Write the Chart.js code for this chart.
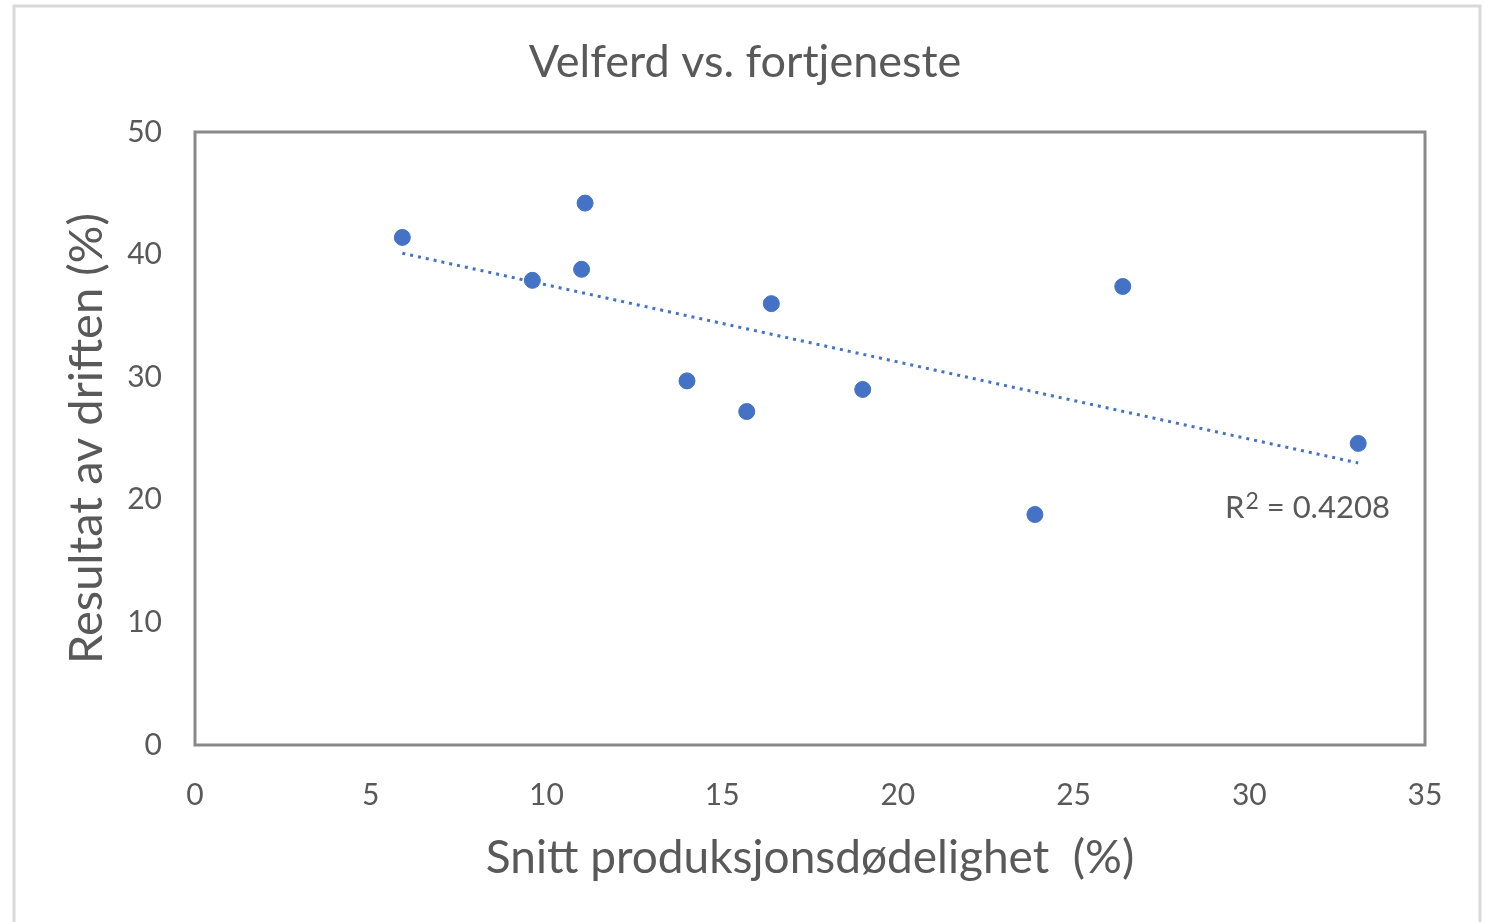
<!DOCTYPE html>
<html>
<head>
<meta charset="utf-8">
<script src="https://cdn.jsdelivr.net/npm/chart.js@4/dist/chart.umd.min.js"></script>
<style>
  html, body { margin: 0; padding: 0; background: #fff; }
  #wrap { width: 1486px; height: 922px; }
</style>
</head>
<body>
<div id="wrap"><canvas id="chart" width="1486" height="922"></canvas></div>
<script>
const mortality = [5.9, 11.1, 9.6, 11.0, 16.4, 14.0, 15.7, 19.0, 23.9, 26.4, 33.1];
const result = [41.4, 44.2, 37.9, 38.8, 36.0, 29.7, 27.2, 29.0, 18.8, 37.4, 24.6];
const xTicks = [0, 5, 10, 15, 20, 25, 30, 35];
const yTicks = [0, 10, 20, 30, 40, 50];
const rSquaredLabel = "0.4208";

const FONT = "Lato, 'Open Sans', sans-serif";
const TEXT = "#595959";
const BLUE = "#4472C4";

const points = mortality.map((x, i) => ({ x, y: result[i] }));

// least squares line for the trend
const n = points.length;
const mx = mortality.reduce((a, b) => a + b, 0) / n;
const my = result.reduce((a, b) => a + b, 0) / n;
let sxy = 0, sxx = 0;
points.forEach(p => { sxy += (p.x - mx) * (p.y - my); sxx += (p.x - mx) ** 2; });
const slope = sxy / sxx;
const icpt = my - slope * mx;
const xMin = Math.min(...mortality);
const xMax = Math.max(...mortality);
const trend = [
  { x: xMin, y: icpt + slope * xMin },
  { x: xMax, y: icpt + slope * xMax },
];

const frame = {
  id: "frame",
  beforeDraw(chart) {
    const { ctx, width, height } = chart;
    ctx.save();
    ctx.fillStyle = "#fff";
    ctx.fillRect(0, 0, width, height);
    ctx.strokeStyle = "#d9d9d9";
    ctx.lineWidth = 3;
    ctx.strokeRect(14, 6, 1466, height + 10);
    ctx.restore();
  },
  afterDatasetsDraw(chart) {
    const { ctx, chartArea: a, scales } = chart;
    ctx.save();
    ctx.strokeStyle = "#898989";
    ctx.lineWidth = 3;
    ctx.strokeRect(a.left, a.top, a.right - a.left, a.bottom - a.top);

    // title
    ctx.fillStyle = TEXT;
    ctx.font = "45px " + FONT;
    ctx.textAlign = "center";
    ctx.textBaseline = "middle";
    ctx.fillText("Velferd vs. fortjeneste", 745, 62);

    // R² label
    const rx = scales.x.getPixelForValue(34.0);
    const ry = scales.y.getPixelForValue(19.3);
    ctx.textAlign = "right";
    ctx.font = "31px " + FONT;
    const tail = " = " + rSquaredLabel;
    ctx.fillText(tail, rx, ry);
    const tw = ctx.measureText(tail).width;
    ctx.font = "23px " + FONT;
    ctx.fillText("2", rx - tw, ry - 7);
    const sw = ctx.measureText("2").width;
    ctx.font = "31px " + FONT;
    ctx.fillText("R", rx - tw - sw - 1, ry);
    ctx.restore();
  },
};

new Chart(document.getElementById("chart"), {
  type: "scatter",
  data: {
    datasets: [
      {
        data: points,
        backgroundColor: BLUE,
        borderColor: BLUE,
        pointRadius: 8,
        pointHoverRadius: 8,
        order: 1,
      },
      {
        type: "line",
        data: trend,
        borderColor: BLUE,
        borderWidth: 3,
        borderDash: [3, 5],
        pointRadius: 0,
        fill: false,
        order: 2,
      },
    ],
  },
  options: {
    responsive: false,
    animation: false,
    layout: { padding: { top: 132, right: 61, left: 59, bottom: 36 } },
    plugins: {
      legend: { display: false },
      tooltip: { enabled: false },
    },
    scales: {
      x: {
        type: "linear",
        min: 0,
        max: 35,
        afterBuildTicks(scale) { scale.ticks = xTicks.map(v => ({ value: v })); },
        afterFit(scale) { scale.height = 141; },
        grid: { display: false },
        border: { display: false },
        ticks: { color: TEXT, font: { family: FONT, size: 30 }, padding: 24, maxRotation: 0 },
        title: {
          display: true,
          text: "Snitt produksjonsdødelighet  (%)",
          color: TEXT,
          font: { family: FONT, size: 46 },
          padding: 0,
        },
      },
      y: {
        min: 0,
        max: 50,
        afterBuildTicks(scale) { scale.ticks = yTicks.map(v => ({ value: v })); },
        afterFit(scale) { scale.width = 136; },
        grid: { display: false },
        border: { display: false },
        ticks: { color: TEXT, font: { family: FONT, size: 30 }, padding: 25 },
        title: {
          display: true,
          text: "Resultat av driften (%)",
          color: TEXT,
          font: { family: FONT, size: 47 },
          padding: 0,
        },
      },
    },
  },
  plugins: [frame],
});
</script>
</body>
</html>
